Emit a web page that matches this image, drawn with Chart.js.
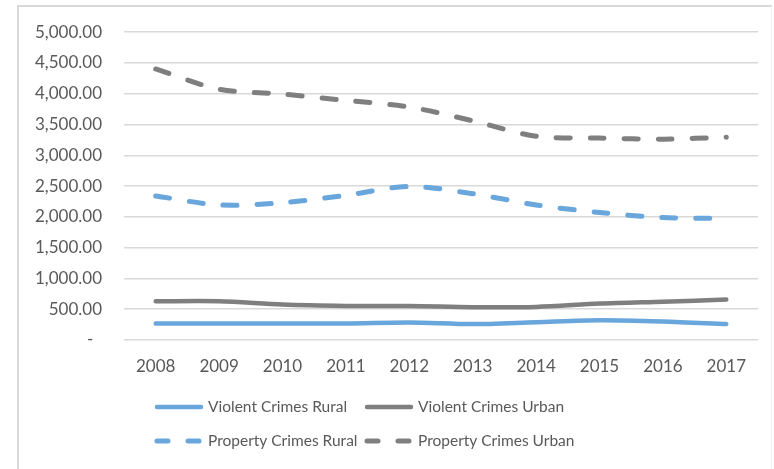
<!DOCTYPE html>
<html>
<head>
<meta charset="utf-8">
<script src="https://cdn.jsdelivr.net/npm/chart.js@4.4.1/dist/chart.umd.min.js"></script>
<style>
  body { margin: 0; background: #fff; }
  #wrap { position: relative; width: 774px; height: 469px; }
  #frame {
    position: absolute; left: 17px; top: 5px; width: 752px; height: 480px;
    border-left: 2px solid #d9d9d9; border-top: 2px solid #d9d9d9; border-right: 1px solid #efefef;
  }
  canvas { position: absolute; left: 0; top: 0; }
</style>
</head>
<body>
<div id="wrap">
  <div id="frame"></div>
  <canvas id="crimeChart" width="774" height="469"></canvas>
</div>
<script>
let years = ['2008', '2009', '2010', '2011', '2012', '2013', '2014', '2015', '2016', '2017']

let violentRural = [269, 269, 269, 268, 285, 258, 290, 322, 301, 258]
let violentUrban = [629, 629, 575, 554, 552, 532, 537, 591, 623, 656]
let propertyRural = [2339, 2194, 2230, 2350, 2495, 2376, 2194, 2070, 1990, 1973]
let propertyUrban = [4403, 4073, 3995, 3892, 3785, 3560, 3311, 3280, 3263, 3295]

let blue = 'rgb(104, 166, 220)'
let grey = 'rgb(127, 127, 127)'
let textColor = '#595959'
let fontFamily = "Lato, 'Open Sans', sans-serif"
let fontSize = 17

// two-column legend under the plot, laid out like the spreadsheet one
let gridLegend = {
  id: 'gridLegend',
  afterDraw(chart) {
    let ctx = chart.ctx
    let sets = chart.data.datasets
    let cols = [155, 365]
    let rows = [407, 441]
    ctx.save()
    ctx.font = '15.5px ' + fontFamily
    ctx.textBaseline = 'middle'
    ctx.textAlign = 'left'
    sets.forEach(function(ds, i) {
      let x = cols[i % 2]
      let y = rows[Math.floor(i / 2)]
      ctx.strokeStyle = ds.borderColor
      ctx.lineWidth = ds.borderWidth
      ctx.lineCap = 'round'
      ctx.setLineDash(ds.borderDash ? [11, 20] : [])
      ctx.beginPath()
      ctx.moveTo(x + 2, y)
      ctx.lineTo(x + 46, y)
      ctx.stroke()
      ctx.setLineDash([])
      ctx.fillStyle = textColor
      ctx.fillText(ds.label, x + 53, y)
    })
    ctx.restore()
  }
}

let ctx = document.getElementById('crimeChart').getContext('2d')
let myChart = new Chart(ctx, {
  type: 'line',
  data: {
    labels: years,
    datasets: [
      { label: 'Violent Crimes Rural', data: violentRural, borderColor: blue, borderWidth: 4.5 },
      { label: 'Violent Crimes Urban', data: violentUrban, borderColor: grey, borderWidth: 4.5 },
      { label: 'Property Crimes Rural', data: propertyRural, borderColor: blue, borderWidth: 5, borderDash: [14, 20] },
      { label: 'Property Crimes Urban', data: propertyUrban, borderColor: grey, borderWidth: 5, borderDash: [14, 20] }
    ]
  },
  options: {
    responsive: false,
    animation: false,
    layout: { padding: { left: 20, right: 16, top: 30, bottom: 89 } },
    elements: {
      line: { tension: 0.3, borderCapStyle: 'round', borderJoinStyle: 'round' },
      point: { radius: 0 }
    },
    plugins: {
      legend: { display: false },
      tooltip: { enabled: false }
    },
    scales: {
      x: {
        offset: true,
        grid: { display: false, drawTicks: false },
        border: { display: false },
        ticks: { color: textColor, padding: 16, font: { family: fontFamily, size: fontSize } },
        afterFit: function(axis) { axis.height = 40 }
      },
      y: {
        min: 0,
        max: 5000,
        grid: { color: '#d9d9d9', lineWidth: 1.5, drawTicks: false },
        border: { display: false },
        ticks: {
          stepSize: 500,
          padding: 22,
          color: textColor,
          font: { family: fontFamily, size: fontSize },
          callback: function(v) {
            if (v === 0) return '-  '
            return v.toLocaleString('en-US', { minimumFractionDigits: 2, maximumFractionDigits: 2 })
          }
        },
        afterFit: function(axis) { axis.width = 104 }
      }
    }
  },
  plugins: [gridLegend]
});
</script>
</body>
</html>
